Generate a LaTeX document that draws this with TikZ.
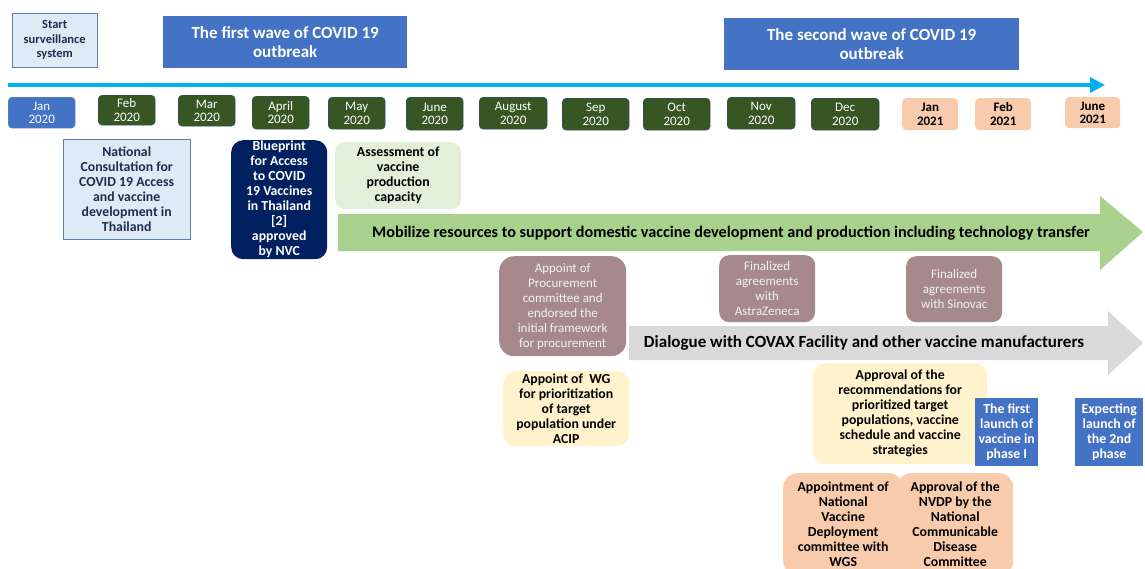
\documentclass[tikz,border=0pt]{standalone}
\usepackage{fontspec}
\setmainfont{Carlito}
\usetikzlibrary{arrows.meta}
\definecolor{myblue}{HTML}{4472C4}
\definecolor{lightblue}{HTML}{DEEBF7}
\definecolor{edgeblue}{HTML}{5B7DB1}
\definecolor{dkgreen}{HTML}{375623}
\definecolor{peach}{HTML}{F8CBAD}
\definecolor{navy}{HTML}{002060}
\definecolor{palegreen}{HTML}{E2EFDA}
\definecolor{arrgreen}{HTML}{A9D18E}
\definecolor{mauve}{HTML}{A68A8B}
\definecolor{arrgray}{HTML}{D9D9D9}
\definecolor{cream}{HTML}{FFF2CC}
\definecolor{tlcyan}{HTML}{00B0F0}
\definecolor{navytext}{HTML}{1F2D4D}
\definecolor{mauvetext}{HTML}{F2F2F2}
\definecolor{monthedge}{HTML}{2F4B7C}
\tikzset{
  box/.style={inner sep=0pt, align=center, anchor=north west},
  wave/.style={box, fill=myblue, text=white, font=\fontsize{17}{19}\selectfont\bfseries},
  month/.style={box, rounded corners=4pt, font=\fontsize{13}{13.5}\selectfont},
  gmonth/.style={month, fill=dkgreen, draw=monthedge, text=white},
  pmonth/.style={month, fill=peach, text=black, font=\fontsize{13}{13.5}\selectfont\bfseries},
  txt/.style={font=\fontsize{13.8}{15}\selectfont\bfseries},
  lighttxt/.style={font=\fontsize{13}{15}\selectfont},
  arrtxt/.style={inner sep=0pt},
}
\begin{document}
\begin{tikzpicture}[x=1pt,y=-1pt]
\useasboundingbox (0,0) rectangle (1145,568);
\clip (0,0) rectangle (1145,568);
% headers
\node[box, fill=lightblue, draw=edgeblue, text=navytext, font=\fontsize{12.5}{14.5}\selectfont\bfseries, minimum width=85pt, minimum height=54pt] (start) at (12,13) {Start\\surveillance\\system};
\node[wave, minimum width=244pt, minimum height=52pt] (wave1) at (163,16) {The first wave of COVID 19\\outbreak};
\node[wave, minimum width=295pt, minimum height=52pt] (wave2) at (724,18) {The second wave of COVID 19\\outbreak};
% timeline
\coordinate (tlA) at (8,85);
\coordinate (tlB) at (1105,85);
\draw[tlcyan, line width=3.5pt, -{Triangle[length=15pt,width=15pt]}] (tlA) -- (tlB);
% months
\node[month, fill=myblue, draw=myblue!80!white, text=white, minimum width=67pt, minimum height=31pt] (m1) at (8,97) {Jan\\2020};
\node[gmonth, minimum width=57pt, minimum height=30pt] (m2) at (98,95) {Feb\\2020};
\node[gmonth, minimum width=57pt, minimum height=31pt] (m3) at (178,95) {Mar\\2020};
\node[gmonth, minimum width=57pt, minimum height=33pt] (m4) at (252,96) {April\\2020};
\node[gmonth, minimum width=57pt, minimum height=32pt] (m5) at (328,97) {May\\2020};
\node[gmonth, minimum width=57pt, minimum height=33pt] (m6) at (406,97) {June\\2020};
\node[gmonth, minimum width=68pt, minimum height=32pt] (m7) at (479,97) {August\\2020};
\node[gmonth, minimum width=67pt, minimum height=32pt] (m8) at (562,98) {Sep\\2020};
\node[gmonth, minimum width=67pt, minimum height=32pt] (m9) at (643,98) {Oct\\2020};
\node[gmonth, minimum width=68pt, minimum height=32pt] (m10) at (727,97) {Nov\\2020};
\node[gmonth, minimum width=68pt, minimum height=32pt] (m11) at (811,98) {Dec\\2020};
\node[pmonth, minimum width=56pt, minimum height=32pt] (m12) at (902,98) {Jan\\2021};
\node[pmonth, minimum width=56pt, minimum height=32pt] (m13) at (975,98) {Feb\\2021};
\node[pmonth, minimum width=55pt, minimum height=31pt] (m14) at (1065,97) {June\\2021};
% events row 1
\node[box, fill=lightblue, draw=edgeblue, text=navytext, txt, minimum width=127pt, minimum height=100pt] (natcons) at (63,139) {National\\Consultation for\\COVID 19 Access\\and vaccine\\development in\\Thailand};
\node[box, fill=navy, text=white, rounded corners=12pt, txt, minimum width=96pt, minimum height=119pt] (blueprint) at (231,140) {Blueprint\\for Access\\to COVID\\19 Vaccines\\in Thailand\\{[2]}\\approved\\by NVC};
\node[box, fill=palegreen, rounded corners=10pt, txt, minimum width=126pt, minimum height=67pt] (assess) at (335,142) {Assessment of\\vaccine\\production\\capacity};
% green arrow
\fill[arrgreen] (338,214) -- (1100,214) -- (1100,196) -- (1143,232) -- (1100,270) -- (1100,251) -- (338,251) -- cycle;
\node[arrtxt, font=\fontsize{16.2}{18}\selectfont\bfseries] (mobil) at (731,233) {Mobilize resources to support domestic vaccine development and production including technology transfer};
% mauve boxes
\node[box, fill=mauve, text=mauvetext, rounded corners=15pt, lighttxt, minimum width=127pt, minimum height=100pt] (procure) at (499,256) {Appoint of\\Procurement\\committee and\\endorsed the\\initial framework\\for procurement};
\node[box, fill=mauve, text=mauvetext, rounded corners=10pt, lighttxt, minimum width=96pt, minimum height=67pt] (astra) at (719,255) {Finalized\\agreements\\with\\AstraZeneca};
\node[box, fill=mauve, text=mauvetext, rounded corners=10pt, lighttxt, minimum width=96pt, minimum height=66pt] (sinovac) at (906,256) {Finalized\\agreements\\with Sinovac};
% gray arrow
\fill[arrgray] (629,326) -- (1108,326) -- (1108,311) -- (1143,343) -- (1108,375) -- (1108,360) -- (629,360) -- cycle;
\node[arrtxt, font=\fontsize{17}{18}\selectfont\bfseries] (covax) at (864,343) {Dialogue with COVAX Facility and other vaccine manufacturers};
% cream boxes
\node[box, fill=cream, rounded corners=12pt, txt, minimum width=126pt, minimum height=75pt] (wg) at (503,371) {Appoint of~ WG\\for prioritization\\of target\\population under\\ACIP};
\node[box, fill=cream, rounded corners=12pt, txt, minimum width=174pt, minimum height=101pt] (approvrec) at (813,363) {Approval of the\\recommendations for\\prioritized target\\populations, vaccine\\schedule and vaccine\\strategies};
% blue launch boxes
\node[box, fill=myblue, text=white, txt, minimum width=63pt, minimum height=68pt] (launch1) at (975,398) {The first\\launch of\\vaccine in\\phase I};
\node[box, fill=myblue, text=white, txt, minimum width=68pt, minimum height=68pt] (launch2) at (1075,398) {Expecting\\launch of\\the 2nd\\phase};
% peach boxes
\node[box, fill=peach, rounded corners=14pt, txt, minimum width=120pt, minimum height=102pt] (nvdc) at (783,473) {Appointment of\\National\\Vaccine\\Deployment\\committee with\\WGS};
\node[box, fill=peach, rounded corners=14pt, txt, minimum width=116pt, minimum height=102pt] (nvdp) at (897,473) {Approval of the\\NVDP by the\\National\\Communicable\\Disease\\Committee};
\end{tikzpicture}
\end{document}
